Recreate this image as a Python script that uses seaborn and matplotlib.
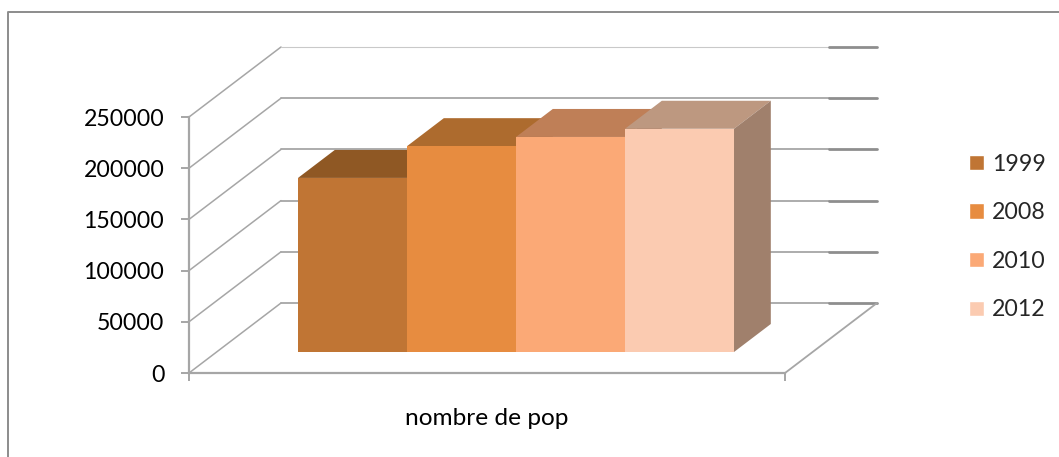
import pandas as pd
import matplotlib.pyplot as plt
import seaborn as sns
from matplotlib.lines import Line2D
from matplotlib.patches import Polygon

years = ["1999", "2008", "2010", "2012"]
population = [170000, 201000, 210000, 218000]
front_colors = ["#C07534", "#E78C40", "#FBA976", "#FBCBB1"]
top_colors = ["#8F5824", "#AD6B2E", "#BF7F57", "#BD9880"]
side_colors = ["#80502A", "#9A6230", "#A9745A", "#A0806C"]
y_ticks = [0, 50000, 100000, 150000, 200000, 250000]
category_label = "nombre de pop"

sns.set_theme(style="white")
plt.rcParams["font.family"] = ["Lato", "DejaVu Sans"]

W, H = 1059, 457
fig = plt.figure(figsize=(W / 100, H / 100), dpi=100)
ax = fig.add_axes([189 / W, (H - 373) / H, 596 / W, 256 / H])

df = pd.DataFrame({"year": years, "population": population})
sns.barplot(data=df, x="year", y="population", hue="year", hue_order=years,
            palette=front_colors, dodge=False, width=1, saturation=1, legend=True, ax=ax)

# fake 3d: depth of the box expressed in data units
x_min, x_max = -1.247, 4.221
depth_x = 92 / 109
depth_y = 70 / 51.2 * 50000
bar_front, bar_back = 0.3, 0.7

ax.set_xlim(x_min, x_max)
ax.set_ylim(0, 250000)

# walls and floor
grid = "#A6A6A6"
for v in y_ticks:
    top = v == y_ticks[-1]
    c = "#C9C9C9" if top else grid
    lw = 0.8 if top else 1.3
    ax.plot([x_min, x_min + depth_x], [v, v + depth_y], color=grid, lw=1.1, clip_on=False, zorder=1)
    ax.plot([x_min + depth_x, x_max + depth_x - 0.44], [v + depth_y] * 2, color=c, lw=lw, clip_on=False, zorder=1)
    ax.plot([x_max + depth_x - 0.44, x_max + depth_x], [v + depth_y] * 2, color="#8E8E8E", lw=2, clip_on=False, zorder=1)
ax.plot([x_max, x_max + depth_x], [0, depth_y], color=grid, lw=1.3, clip_on=False, zorder=1)

# bars: move the front faces into the box, then add top and side faces
for i, patch in enumerate(ax.patches[:len(years)]):
    x0 = patch.get_x() + depth_x * bar_front
    y0 = depth_y * bar_front
    h = patch.get_height()
    w = patch.get_width()
    patch.set_x(x0)
    patch.set_y(y0)
    patch.set_zorder(3 + 2 * i)
    patch.set_clip_on(False)
    patch.set_linewidth(0)
    dx = depth_x * (bar_back - bar_front)
    dy = depth_y * (bar_back - bar_front)
    ax.add_patch(Polygon([(x0, y0 + h), (x0 + w, y0 + h), (x0 + w + dx, y0 + h + dy), (x0 + dx, y0 + h + dy)],
                         facecolor=top_colors[i], lw=0, clip_on=False, zorder=2 + 2 * i))
    ax.add_patch(Polygon([(x0 + w, y0), (x0 + w + dx, y0 + dy), (x0 + w + dx, y0 + h + dy), (x0 + w, y0 + h)],
                         facecolor=side_colors[i], lw=0, clip_on=False, zorder=2 + 2 * i))

sns.despine(ax=ax)
for s in ["left", "bottom"]:
    ax.spines[s].set_color(grid)
    ax.spines[s].set_linewidth(1.6)
ax.set_yticks(y_ticks)
ax.set_xticks([x_min, x_max])
ax.set_xticklabels([])
ax.tick_params(axis="both", length=5.8, width=1.4, color=grid, left=True, bottom=True)
ax.tick_params(axis="y", labelsize=16.7, labelcolor="black", pad=12)
ax.set_ylabel("")
ax.set_xlabel(category_label, fontsize=17.6, color="black", labelpad=16)

sns.move_legend(ax, loc="center left", bbox_to_anchor=(948 / W, (H - 237) / H),
                bbox_transform=fig.transFigure, title=None, frameon=False,
                fontsize=16.7, labelspacing=1.19, handlelength=0.65, handleheight=0.65,
                handletextpad=0.35)

# outer chart border, only top and left are visible in the crop
fig.add_artist(Line2D([8 / W, 8 / W, 1], [0, (H - 12) / H, (H - 12) / H], color="#8C8C8C", lw=1.4))

fig.savefig("out.png", dpi=100)
